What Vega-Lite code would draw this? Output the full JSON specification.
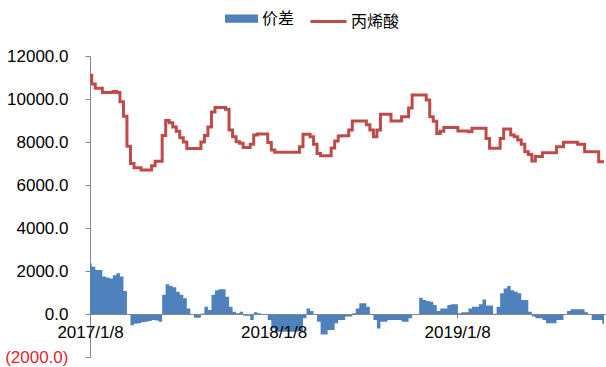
{
  "$schema": "https://vega.github.io/schema/vega-lite/v6.json",
  "width": 516,
  "height": 301,
  "autosize": {"type": "none"},
  "padding": {"left": 90, "top": 56, "right": 0, "bottom": 10},
  "background": "white",
  "config": {"view": {"stroke": null}, "font": "Liberation Sans"},
  "data": {
    "format": {"parse": {"d": "date:'%Y-%m-%d'"}},
    "values": [
      {"d": "2017-01-08", "s": 2350, "p": 11100},
      {"d": "2017-01-15", "s": 2200, "p": 10700},
      {"d": "2017-01-22", "s": 2050, "p": 10500},
      {"d": "2017-01-29", "s": 2050, "p": 10500},
      {"d": "2017-02-05", "s": 1750, "p": 10300},
      {"d": "2017-02-12", "s": 1700, "p": 10300},
      {"d": "2017-02-19", "s": 1650, "p": 10300},
      {"d": "2017-02-26", "s": 1800, "p": 10350},
      {"d": "2017-03-05", "s": 1900, "p": 10300},
      {"d": "2017-03-12", "s": 1750, "p": 9870},
      {"d": "2017-03-19", "s": 1070, "p": 9200},
      {"d": "2017-03-26", "s": 0, "p": 7800},
      {"d": "2017-04-02", "s": -520, "p": 7000},
      {"d": "2017-04-09", "s": -450, "p": 6800},
      {"d": "2017-04-16", "s": -430, "p": 6800},
      {"d": "2017-04-23", "s": -380, "p": 6700},
      {"d": "2017-04-30", "s": -360, "p": 6700},
      {"d": "2017-05-07", "s": -330, "p": 6700},
      {"d": "2017-05-14", "s": -280, "p": 6900},
      {"d": "2017-05-21", "s": -300, "p": 7100},
      {"d": "2017-05-28", "s": -360, "p": 7100},
      {"d": "2017-06-04", "s": 900, "p": 8300},
      {"d": "2017-06-11", "s": 1380, "p": 9000},
      {"d": "2017-06-18", "s": 1300, "p": 8900},
      {"d": "2017-06-25", "s": 1250, "p": 8700},
      {"d": "2017-07-02", "s": 1040, "p": 8500},
      {"d": "2017-07-09", "s": 900, "p": 8200},
      {"d": "2017-07-16", "s": 730, "p": 8000},
      {"d": "2017-07-23", "s": 260, "p": 7700},
      {"d": "2017-07-30", "s": 0, "p": 7700},
      {"d": "2017-08-06", "s": -170, "p": 7700},
      {"d": "2017-08-13", "s": -170, "p": 7700},
      {"d": "2017-08-20", "s": 20, "p": 8000},
      {"d": "2017-08-27", "s": 340, "p": 8300},
      {"d": "2017-09-03", "s": 190, "p": 8700},
      {"d": "2017-09-10", "s": 900, "p": 9400},
      {"d": "2017-09-17", "s": 1100, "p": 9600},
      {"d": "2017-09-24", "s": 1150, "p": 9600},
      {"d": "2017-10-01", "s": 1150, "p": 9600},
      {"d": "2017-10-08", "s": 800, "p": 9520},
      {"d": "2017-10-15", "s": 340, "p": 8560},
      {"d": "2017-10-22", "s": 110, "p": 8250},
      {"d": "2017-10-29", "s": 30, "p": 8010},
      {"d": "2017-11-05", "s": 110, "p": 7940},
      {"d": "2017-11-12", "s": -80, "p": 7740},
      {"d": "2017-11-19", "s": -80, "p": 7740},
      {"d": "2017-11-26", "s": -280, "p": 7900},
      {"d": "2017-12-03", "s": 80, "p": 8330},
      {"d": "2017-12-10", "s": 40, "p": 8370},
      {"d": "2017-12-17", "s": 0, "p": 8370},
      {"d": "2017-12-24", "s": 0, "p": 8370},
      {"d": "2017-12-31", "s": -280, "p": 7980},
      {"d": "2018-01-07", "s": -670, "p": 7630},
      {"d": "2018-01-14", "s": -820, "p": 7520},
      {"d": "2018-01-21", "s": -820, "p": 7520},
      {"d": "2018-01-28", "s": -820, "p": 7520},
      {"d": "2018-02-04", "s": -830, "p": 7520},
      {"d": "2018-02-11", "s": -820, "p": 7520},
      {"d": "2018-02-18", "s": -820, "p": 7520},
      {"d": "2018-02-25", "s": -810, "p": 7520},
      {"d": "2018-03-04", "s": -800, "p": 7780},
      {"d": "2018-03-11", "s": -200, "p": 8360},
      {"d": "2018-03-18", "s": 260, "p": 8360},
      {"d": "2018-03-25", "s": 140, "p": 8250},
      {"d": "2018-04-01", "s": 0, "p": 7900},
      {"d": "2018-04-08", "s": -360, "p": 7470},
      {"d": "2018-04-15", "s": -950, "p": 7360},
      {"d": "2018-04-22", "s": -950, "p": 7360},
      {"d": "2018-04-29", "s": -740, "p": 7360},
      {"d": "2018-05-06", "s": -740, "p": 7720},
      {"d": "2018-05-13", "s": -430, "p": 8050},
      {"d": "2018-05-20", "s": -280, "p": 8280},
      {"d": "2018-05-27", "s": -280, "p": 8290},
      {"d": "2018-06-03", "s": -120, "p": 8290},
      {"d": "2018-06-10", "s": -120, "p": 8560},
      {"d": "2018-06-17", "s": 30, "p": 8980},
      {"d": "2018-06-24", "s": 260, "p": 8980},
      {"d": "2018-07-01", "s": 500, "p": 8980},
      {"d": "2018-07-08", "s": 500, "p": 8980},
      {"d": "2018-07-15", "s": 340, "p": 8800},
      {"d": "2018-07-22", "s": -10, "p": 8560},
      {"d": "2018-07-29", "s": -280, "p": 8250},
      {"d": "2018-08-05", "s": -670, "p": 8560},
      {"d": "2018-08-12", "s": -360, "p": 9290},
      {"d": "2018-08-19", "s": -360, "p": 9290},
      {"d": "2018-08-26", "s": -280, "p": 9290},
      {"d": "2018-09-02", "s": -280, "p": 8980},
      {"d": "2018-09-09", "s": -280, "p": 8980},
      {"d": "2018-09-16", "s": -280, "p": 8980},
      {"d": "2018-09-23", "s": -360, "p": 9180},
      {"d": "2018-09-30", "s": -360, "p": 9180},
      {"d": "2018-10-07", "s": -200, "p": 9580},
      {"d": "2018-10-14", "s": 0, "p": 10190},
      {"d": "2018-10-21", "s": 0, "p": 10190},
      {"d": "2018-10-28", "s": 760, "p": 10190},
      {"d": "2018-11-04", "s": 650, "p": 10190},
      {"d": "2018-11-11", "s": 600, "p": 9950},
      {"d": "2018-11-18", "s": 570, "p": 9180},
      {"d": "2018-11-25", "s": 420, "p": 8960},
      {"d": "2018-12-02", "s": 140, "p": 8400},
      {"d": "2018-12-09", "s": 260, "p": 8500},
      {"d": "2018-12-16", "s": 260, "p": 8670},
      {"d": "2018-12-23", "s": 420, "p": 8670},
      {"d": "2018-12-30", "s": 450, "p": 8670},
      {"d": "2019-01-06", "s": 450, "p": 8670},
      {"d": "2019-01-13", "s": 30, "p": 8510},
      {"d": "2019-01-20", "s": 80, "p": 8510},
      {"d": "2019-01-27", "s": 80, "p": 8510},
      {"d": "2019-02-03", "s": 260, "p": 8480},
      {"d": "2019-02-10", "s": 340, "p": 8640},
      {"d": "2019-02-17", "s": 340, "p": 8640},
      {"d": "2019-02-24", "s": 450, "p": 8640},
      {"d": "2019-03-03", "s": 680, "p": 8640},
      {"d": "2019-03-10", "s": 390, "p": 8160},
      {"d": "2019-03-17", "s": 390, "p": 7710},
      {"d": "2019-03-24", "s": 10, "p": 7710},
      {"d": "2019-03-31", "s": 340, "p": 7710},
      {"d": "2019-04-07", "s": 960, "p": 8160},
      {"d": "2019-04-14", "s": 1190, "p": 8600},
      {"d": "2019-04-21", "s": 1300, "p": 8600},
      {"d": "2019-04-28", "s": 1100, "p": 8330},
      {"d": "2019-05-05", "s": 1040, "p": 8250},
      {"d": "2019-05-12", "s": 960, "p": 8090},
      {"d": "2019-05-19", "s": 650, "p": 7900},
      {"d": "2019-05-26", "s": 650, "p": 7550},
      {"d": "2019-06-02", "s": 110, "p": 7420},
      {"d": "2019-06-09", "s": -120, "p": 7120},
      {"d": "2019-06-16", "s": -200, "p": 7330},
      {"d": "2019-06-23", "s": -200, "p": 7330},
      {"d": "2019-06-30", "s": -280, "p": 7500},
      {"d": "2019-07-07", "s": -430, "p": 7500},
      {"d": "2019-07-14", "s": -430, "p": 7500},
      {"d": "2019-07-21", "s": -430, "p": 7500},
      {"d": "2019-07-28", "s": -280, "p": 7780},
      {"d": "2019-08-04", "s": -280, "p": 7780},
      {"d": "2019-08-11", "s": 0, "p": 7990},
      {"d": "2019-08-18", "s": 140, "p": 7990},
      {"d": "2019-08-25", "s": 220, "p": 7990},
      {"d": "2019-09-01", "s": 220, "p": 7990},
      {"d": "2019-09-08", "s": 220, "p": 7900},
      {"d": "2019-09-15", "s": 220, "p": 7900},
      {"d": "2019-09-22", "s": 80, "p": 7550},
      {"d": "2019-09-29", "s": 0, "p": 7550},
      {"d": "2019-10-06", "s": -280, "p": 7550},
      {"d": "2019-10-13", "s": -280, "p": 7550},
      {"d": "2019-10-20", "s": -280, "p": 7080},
      {"d": "2019-10-27", "s": -450, "p": 7080}
    ]
  },
  "encoding": {
    "x": {
      "field": "d",
      "type": "temporal",
      "scale": {"domain": [{"year": 2017, "month": 1, "date": 8}, {"year": 2019, "month": 10, "date": 31}]},
      "axis": {
        "title": null,
        "values": [{"year": 2017, "month": 1, "date": 8}, {"year": 2018, "month": 1, "date": 8}, {"year": 2019, "month": 1, "date": 8}],
        "format": "%Y/%-m/%-d",
        "offset": -43,
        "grid": false,
        "domainColor": "#868686",
        "tickColor": "#868686",
        "tickSize": 4,
        "labelFontSize": 17,
        "labelColor": "#000000",
        "labelPadding": 6,
        "labelFlush": false,
        "labelOverlap": false,
        "zindex": 1
      }
    }
  },
  "layer": [
    {
      "mark": {"type": "area", "interpolate": "step"},
      "encoding": {
        "y": {
          "field": "s",
          "type": "quantitative",
          "scale": {"domain": [-2000, 12000]},
          "axis": {
            "title": null,
            "values": [-2000, 0, 2000, 4000, 6000, 8000, 10000, 12000],
            "labelExpr": "datum.value < 0 ? '(' + format(-datum.value, '.1f') + ')' : format(datum.value, '.1f')",
            "labelColor": {"condition": {"test": "datum.value < 0", "value": "#e0262b"}, "value": "#000000"},
            "grid": false,
            "domainColor": "#868686",
            "tickColor": "#868686",
            "tickSize": 5,
            "labelPadding": 17,
            "labelFontSize": 17
          }
        },
        "fill": {
          "datum": "价差",
          "scale": {"range": ["#4f81bd"]},
          "legend": {
            "orient": "none",
            "legendX": 135,
            "legendY": -54,
            "direction": "horizontal",
            "title": null,
            "padding": 0,
            "symbolType": "M-1,-0.25H1V0.25H-1Z",
            "symbolSize": 1089,
            "symbolStrokeWidth": 0,
            "symbolOpacity": 1,
            "labelFont": "Noto Sans CJK SC",
            "labelFontSize": 16,
            "labelColor": "#000000",
            "labelOffset": 4
          }
        }
      }
    },
    {
      "mark": {"type": "line", "strokeWidth": 3, "interpolate": "step"},
      "encoding": {
        "y": {"field": "p", "type": "quantitative"},
        "stroke": {
          "datum": "丙烯酸",
          "scale": {"range": ["#be4b48"]},
          "legend": {
            "orient": "none",
            "legendX": 219,
            "legendY": -54,
            "direction": "horizontal",
            "title": null,
            "padding": 0,
            "symbolType": "stroke",
            "symbolSize": 1296,
            "symbolStrokeWidth": 3,
            "labelFont": "Noto Sans CJK SC",
            "labelFontSize": 16,
            "labelColor": "#000000",
            "labelOffset": 3
          }
        }
      }
    }
  ]
}
